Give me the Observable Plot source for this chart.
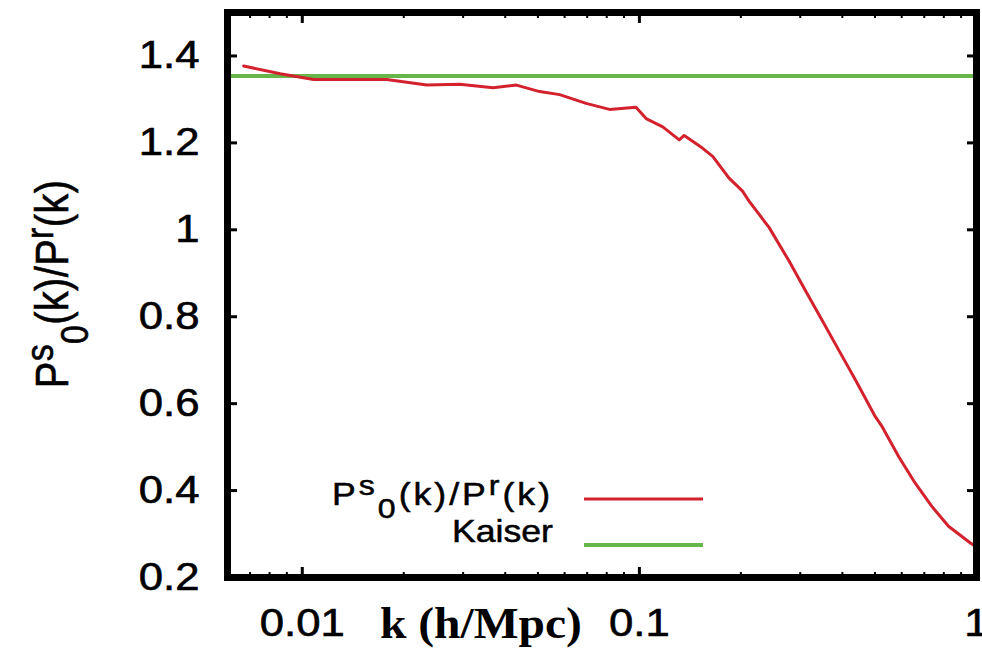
<!DOCTYPE html>
<html>
<head>
<meta charset="utf-8">
<script src="https://cdn.jsdelivr.net/npm/d3@7"></script>
<script src="https://cdn.jsdelivr.net/npm/@observablehq/plot@0.6"></script>
<style>
  html, body { margin: 0; padding: 0; background: #ffffff; }
  #chart { width: 982px; height: 649px; overflow: hidden; }
</style>
</head>
<body>
<div id="chart"></div>
<script>
// ---- data ----
const kValues = [0.0067, 0.0086, 0.0108, 0.0178, 0.0234, 0.0293, 0.0368, 0.0432, 0.0506, 0.058,
  0.0695, 0.0815, 0.0977, 0.1047, 0.1173, 0.1313, 0.1358, 0.1538, 0.165, 0.1845,
  0.2023, 0.2115, 0.2427, 0.278, 0.311, 0.349, 0.391, 0.438, 0.501, 0.525,
  0.588, 0.658, 0.738, 0.826, 0.957, 1.0];
const ratioValues = [1.377, 1.359, 1.346, 1.346, 1.333, 1.335, 1.327, 1.333, 1.318, 1.311,
  1.291, 1.277, 1.282, 1.256, 1.237, 1.207, 1.217, 1.188, 1.169, 1.119,
  1.089, 1.066, 1.005, 0.928, 0.860, 0.791, 0.722, 0.654, 0.570, 0.547,
  0.478, 0.417, 0.363, 0.318, 0.280, 0.270];
const kaiserValue = 1.354;
const xMajorTicks = [0.01, 0.1, 1];
const xTickLabels = ["0.01", "0.1", "1"];
const xMinorTicks = [0.006, 0.007, 0.008, 0.009, 0.02, 0.03, 0.04, 0.05, 0.06, 0.07, 0.08, 0.09,
  0.2, 0.3, 0.4, 0.5, 0.6, 0.7, 0.8, 0.9];
const yTicks = [0.2, 0.4, 0.6, 0.8, 1.0, 1.2, 1.4];
const yTickLabels = ["0.2", "0.4", "0.6", "0.8", "1", "1.2", "1.4"];
const seriesNames = ["P^s_0(k)/P^r(k)", "Kaiser"];

const RED = "#d3222e";
const GREEN = "#67b64a";
const STRETCH = 1.15; // the reference's text is slightly wider than normal

const curve = kValues.map((k, i) => ({k, r: ratioValues[i]}));

const plot = Plot.plot({
  width: 982,
  height: 649,
  marginLeft: 227,
  marginRight: 6,
  marginTop: 12,
  marginBottom: 72,
  x: {type: "log", domain: [0.006, 1]},
  y: {domain: [0.2, 1.5]},
  style: {
    fontFamily: "'Liberation Sans', Arial, Helvetica, sans-serif",
    fontSize: "38px",
    color: "black",
    background: "white",
    overflow: "visible"
  },
  marks: [
    Plot.ruleY([kaiserValue], {stroke: GREEN, strokeWidth: 4}),
    Plot.line(curve, {x: "k", y: "r", stroke: RED, strokeWidth: 3, strokeLinejoin: "round"}),
    // inward major ticks
    Plot.axisX(xMajorTicks, {anchor: "bottom", tickSize: -10, fill: "none", label: null, strokeWidth: 3}),
    Plot.axisX(xMajorTicks, {anchor: "top", tickSize: -10, fill: "none", label: null, strokeWidth: 3}),
    Plot.axisX(xMinorTicks, {anchor: "bottom", tickSize: -5, fill: "none", label: null, strokeWidth: 2}),
    Plot.axisX(xMinorTicks, {anchor: "top", tickSize: -5, fill: "none", label: null, strokeWidth: 2}),
    Plot.axisY(yTicks, {anchor: "left", tickSize: -10, fill: "none", label: null, strokeWidth: 3}),
    Plot.axisY(yTicks, {anchor: "right", tickSize: -10, fill: "none", label: null, strokeWidth: 3}),
    // tick labels
    Plot.axisX(xMajorTicks, {anchor: "bottom", tickSize: 0, tickPadding: 32, label: null,
      tickFormat: d => xTickLabels[xMajorTicks.indexOf(d)]}),
    Plot.axisY(yTicks, {anchor: "left", tickSize: 0, tickPadding: 28, label: null,
      tickFormat: d => yTickLabels[yTicks.indexOf(d)]}),
    Plot.frame({stroke: "black", strokeWidth: 7})
  ]
});

document.getElementById("chart").appendChild(plot);

const svg = d3.select(plot);

// widen and slightly embolden tick labels, like the reference
svg.selectAll('g[aria-label="x-axis tick label"] text, g[aria-label="y-axis tick label"] text')
  .each(function () {
    const t = this.getAttribute("transform") || "";
    this.setAttribute("transform", t + ` scale(${STRETCH},1)`);
  })
  .attr("stroke", "black").attr("stroke-width", 0.6);

// ---- annotations: axis titles and legend ----
const ann = svg.append("g").attr("fill", "black")
  .attr("stroke", "black").attr("stroke-width", 0.5)
  .style("font-family", "'Liberation Sans', Arial, Helvetica, sans-serif");

function ratioLabel(textSel, size, supScale) {
  const sup = Math.round(size * 0.33), sub = Math.round(size * 0.42);
  textSel.append("tspan").text("P");
  textSel.append("tspan").attr("font-size", size * supScale).attr("dy", -sup).text("s");
  textSel.append("tspan").attr("font-size", size * supScale).attr("dy", sup + sub).text("0");
  textSel.append("tspan").attr("dy", -sub).text("(k)/P");
  textSel.append("tspan").attr("font-size", size * supScale).attr("dy", -sup).text("r");
  textSel.append("tspan").attr("dy", sup).text("(k)");
}

// y axis title
const yt = ann.append("text")
  .attr("transform", `translate(68,284) rotate(-90) scale(1,${STRETCH})`)
  .attr("text-anchor", "middle")
  .attr("font-size", 40)
  .attr("letter-spacing", 0.3);
ratioLabel(yt, 40, 0.85);

// x axis title
ann.append("text")
  .attr("transform", "translate(380,638) scale(1.08,1)")
  .attr("text-anchor", "start")
  .attr("font-family", "'Liberation Serif', 'Times New Roman', serif")
  .attr("font-weight", "bold")
  .attr("stroke-width", 0)
  .attr("font-size", 44)
  .text("k (h/Mpc)");

// legend
const lg = ann.append("text")
  .attr("transform", `translate(553,505) scale(${STRETCH},1)`)
  .attr("text-anchor", "end")
  .attr("font-size", 31)
  .attr("letter-spacing", 2.6);
ratioLabel(lg, 31, 0.9);
ann.append("text")
  .attr("transform", `translate(553,542) scale(${STRETCH},1)`)
  .attr("text-anchor", "end")
  .attr("font-size", 31)
  .text(seriesNames[1]);
ann.append("line").attr("x1", 584).attr("x2", 703).attr("y1", 499).attr("y2", 499)
  .attr("stroke", RED).attr("stroke-width", 3);
ann.append("line").attr("x1", 584).attr("x2", 703).attr("y1", 545).attr("y2", 545)
  .attr("stroke", GREEN).attr("stroke-width", 4);
</script>
</body>
</html>
